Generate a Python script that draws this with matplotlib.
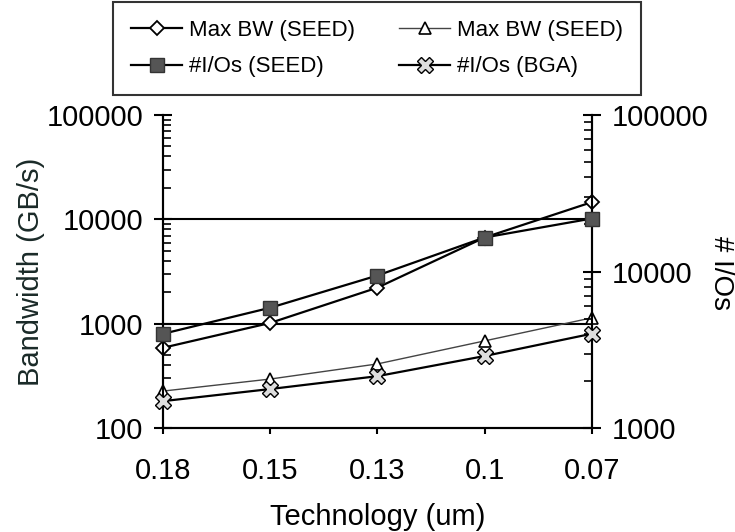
import numpy as np
import matplotlib.pyplot as plt
from matplotlib.ticker import LogLocator, NullFormatter

plt.rcParams['font.family'] = ['Liberation Sans', 'DejaVu Sans']

tech = ['0.18', '0.15', '0.13', '0.1', '0.07']

# bandwidth series (left axis, GB/s)
bw_seed = [590, 1020, 2220, 6700, 14600]
bw_seed2 = [227, 296, 413, 686, 1140]

# I/O counts (right axis)
io_seed = [4010, 5880, 9440, 16500, 21800]
io_bga = [1490, 1780, 2150, 2890, 4010]

x = np.arange(len(tech))

fig = plt.figure(figsize=(7.35, 5.32), dpi=100)
ax = fig.add_axes([0.222, 0.195, 0.583, 0.589])
ax2 = ax.twinx()

l1, = ax.plot(x, bw_seed, color='black', lw=1.6, marker='D', ms=7,
              mfc='white', mec='black', mew=1.3, clip_on=False, zorder=3)
l2, = ax.plot(x, bw_seed2, color='#444444', lw=1.0, marker='^', ms=9,
              mfc='white', mec='black', mew=1.2, clip_on=False, zorder=3)
l3, = ax2.plot(x, io_seed, color='black', lw=1.6, marker='s', ms=10,
               mfc='#555555', mec='#333333', mew=1.0, clip_on=False, zorder=3)
l4, = ax2.plot(x, io_bga, color='black', lw=1.6, marker='X', ms=11,
               mfc='#dddddd', mec='black', mew=1.0, clip_on=False, zorder=3)

ax.set_yscale('log')
ax.set_ylim(100, 100000)
ax2.set_yscale('log')
ax2.set_ylim(1000, 100000)
ax.set_xlim(0, 4)

ax.set_yticks([100, 1000, 10000, 100000])
ax.set_yticklabels(['100', '1000', '10000', '100000'])
ax.yaxis.set_minor_locator(LogLocator(base=10, subs=np.arange(2, 10)))
ax.yaxis.set_minor_formatter(NullFormatter())
ax2.set_yticks([1000, 10000, 100000])
ax2.set_yticklabels(['1000', '10000', '100000'])
ax2.yaxis.set_minor_locator(LogLocator(base=10, subs=np.arange(2, 10)))
ax2.yaxis.set_minor_formatter(NullFormatter())

ax.set_xticks(x)
ax.set_xticklabels(tech)

for a in (ax, ax2):
    a.spines['top'].set_visible(False)
    for s in a.spines.values():
        s.set_linewidth(1.5)
    a.tick_params(axis='y', which='major', direction='inout', length=13,
                  width=1.5, labelsize=21, pad=8)
    a.tick_params(axis='y', which='minor', direction='in', length=6, width=1.2)
ax.tick_params(axis='x', direction='out', length=4, width=1.5, labelsize=21, pad=17)

# horizontal reference lines at the inner decades
for yv in (1000, 10000):
    ax.axhline(yv, color='black', lw=1.5, zorder=0)

ax.set_ylabel('Bandwidth (GB/s)', fontsize=21, color='#1a2a28')
ax.yaxis.set_label_coords(-0.275, 0.5)
ax.set_xlabel('Technology (um)', fontsize=21, labelpad=13)
fig.text(0.981, 0.487, '# I/Os', fontsize=20, rotation=-90,
         ha='center', va='center')

leg = fig.legend([l1, l3, l2, l4],
                 ['Max BW (SEED)', '#I/Os (SEED)', 'Max BW (SEED)', '#I/Os (BGA)'],
                 ncol=2, loc='upper left', bbox_to_anchor=(0.154, 0.996),
                 borderaxespad=0, fontsize=16, frameon=True, fancybox=False,
                 edgecolor='black', handlelength=2.3, columnspacing=2.0,
                 borderpad=0.8, labelspacing=0.7, handletextpad=0.3)
leg.get_frame().set_linewidth(1.5)

fig.savefig('out.png', dpi=100)
